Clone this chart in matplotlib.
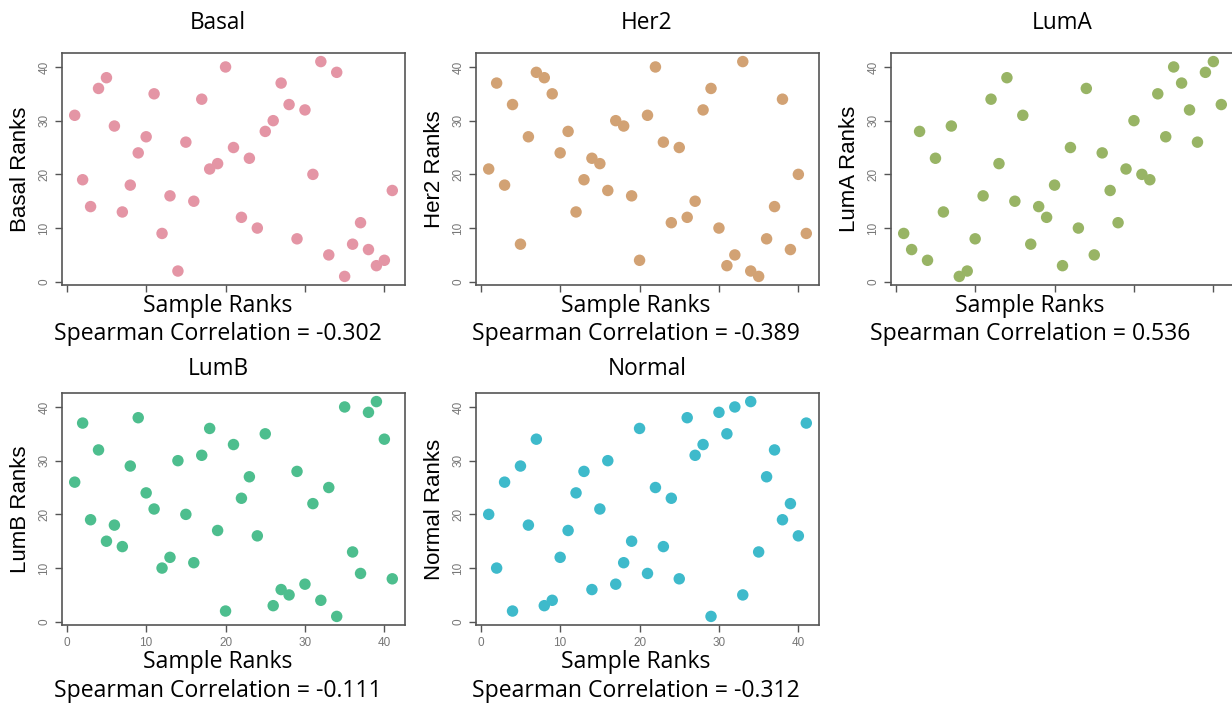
import matplotlib
matplotlib.use("Agg")
import matplotlib.pyplot as plt
import numpy as np

# ---- data ----
subtypes = ["Basal", "Her2", "LumA", "LumB", "Normal"]
sample_ranks = list(range(1, 42))
basal_ranks = [31, 19, 14, 36, 38, 29, 13, 18, 24, 27, 35, 9, 16, 2, 26, 15, 34, 21, 22, 40,
               25, 12, 23, 10, 28, 30, 37, 33, 8, 32, 20, 41, 5, 39, 1, 7, 11, 6, 3, 4, 17]
her2_ranks = [21, 37, 18, 33, 7, 27, 39, 38, 35, 24, 28, 13, 19, 23, 22, 17, 30, 29, 16, 4,
              31, 40, 26, 11, 25, 12, 15, 32, 36, 10, 3, 5, 41, 2, 1, 8, 14, 34, 6, 20, 9]
luma_ranks = [9, 6, 28, 4, 23, 13, 29, 1, 2, 8, 16, 34, 22, 38, 15, 31, 7, 14, 12, 18,
              3, 25, 10, 36, 5, 24, 17, 11, 21, 30, 20, 19, 35, 27, 40, 37, 32, 26, 39, 41, 33]
lumb_ranks = [26, 37, 19, 32, 15, 18, 14, 29, 38, 24, 21, 10, 12, 30, 20, 11, 31, 36, 17, 2,
              33, 23, 27, 16, 35, 3, 6, 5, 28, 7, 22, 4, 25, 1, 40, 13, 9, 39, 41, 34, 8]
normal_ranks = [20, 10, 26, 2, 29, 18, 34, 3, 4, 12, 17, 24, 28, 6, 21, 30, 7, 11, 15, 36,
                9, 25, 14, 23, 8, 38, 31, 33, 1, 39, 35, 40, 5, 41, 13, 27, 32, 19, 22, 16, 37]
correlations = ["-0.302", "-0.389", "0.536", "-0.111", "-0.312"]
colors = ["#E495A5", "#D2A274", "#98B465", "#4DBE8E", "#3EBACB"]
x_ticks = [0, 10, 20, 30, 40]
y_ticks = [0, 10, 20, 30, 40]

all_ranks = [basal_ranks, her2_ranks, luma_ranks, lumb_ranks, normal_ranks]

W, H = 1232, 706
fig = plt.figure(figsize=(W / 100, H / 100), dpi=100)

# panel boxes in pixels: (left, top)
lefts = [62, 476, 891, 62, 476]
tops = [53, 53, 53, 393, 393]
pw, ph = 343, 232
title_cx = [218, 647, 1062, 218, 647]
label_cx = [218, 636, 1030, 218, 636]

TEXT_FONT = ["Open Sans", "DejaVu Sans"]
AX_FONT = ["Liberation Sans", "DejaVu Sans"]

def fx(px):
    return px / W

def fy(py):
    return 1 - py / H

for i, name in enumerate(subtypes):
    l, t = lefts[i], tops[i]
    ax = fig.add_axes([fx(l), fy(t + ph), pw / W, ph / H])
    ax.scatter(sample_ranks, all_ranks[i], s=68, color=colors[i], edgecolors="none", zorder=3)
    ax.set_xlim(-0.6, 42.6)
    ax.set_ylim(-0.6, 42.6)
    ax.set_xticks(x_ticks)
    ax.set_yticks(y_ticks)
    bottom_row = i >= 3
    ax.tick_params(axis="both", direction="out", length=5, width=1, color="#555555",
                   labelsize=8.5, labelcolor="#777777")
    if not bottom_row:
        ax.tick_params(axis="x", labelbottom=False)
    for lab in ax.get_yticklabels():
        lab.set_rotation(90)
        lab.set_va("center")
        lab.set_family(AX_FONT)
    for lab in ax.get_xticklabels():
        lab.set_family(AX_FONT)
    for sp in ax.spines.values():
        sp.set_color("#555555")
        sp.set_linewidth(1.2)
    ax.set_ylabel(f"{name} Ranks", fontsize=16, family=AX_FONT, labelpad=5)

    title_y = 23 if not bottom_row else 369
    fig.text(fx(title_cx[i]), fy(title_y), name, ha="center", va="center",
             fontsize=16.3, family=TEXT_FONT)
    sr_y = 306 if not bottom_row else 662
    sc_y = 334 if not bottom_row else 691
    fig.text(fx(label_cx[i]), fy(sr_y), "Sample Ranks", ha="center", va="center",
             fontsize=16.6, family=TEXT_FONT)
    fig.text(fx(label_cx[i]), fy(sc_y), f"Spearman Correlation = {correlations[i]}", ha="center",
             va="center", fontsize=16.6, family=TEXT_FONT)

fig.savefig("out.png", dpi=100)
